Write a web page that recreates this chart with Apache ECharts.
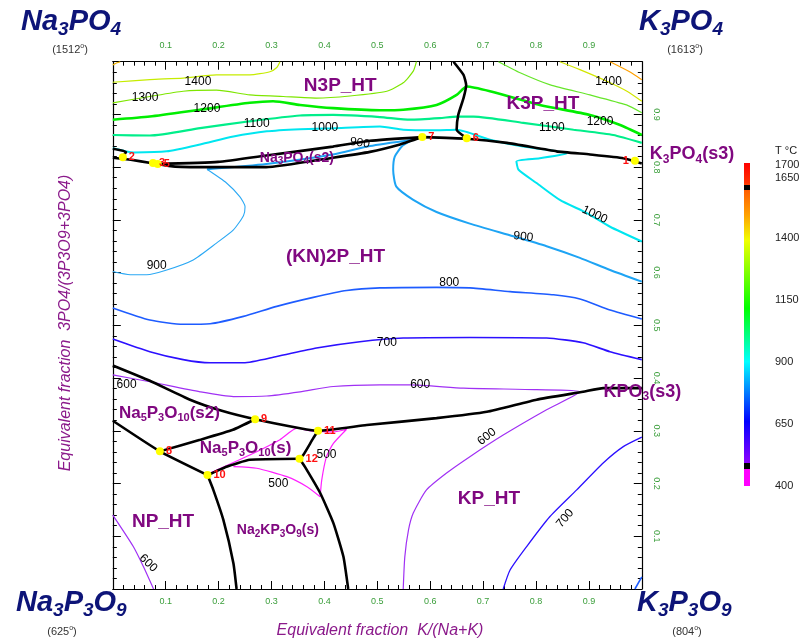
<!DOCTYPE html>
<html>
<head>
<meta charset="utf-8">
<script src="https://cdn.jsdelivr.net/npm/echarts@6/dist/echarts.min.js"></script>
<style>
html,body{margin:0;padding:0;background:#fff}
#chart{width:809px;height:643px}
</style>
</head>
<body>
<div id="chart"></div>
<script>
// ---- Phase boundaries (x = K/(Na+K), y = PO4/(P3O9+PO4)) ----
const bndEdgeNotch = [[0,0.835],[0.025,0.829],[0.019,0.819]];
const bndLensLower = [[0,0.818],[0.034,0.814],[0.072,0.808],[0.118,0.801],[0.199,0.800],[0.290,0.800],[0.416,0.818],[0.486,0.829],[0.543,0.843],[0.585,0.857]];
const bndLensUpper = [[0.080,0.806],[0.199,0.810],[0.290,0.822],[0.416,0.839],[0.486,0.850],[0.585,0.857]];
const bndK3PO4 = [[0.585,0.857],[0.669,0.854],[0.745,0.846],[0.839,0.830],[0.902,0.824],[0.965,0.817],[1.0,0.807]];
const bndN3PK3P = [[0.644,1.0],[0.663,0.975],[0.668,0.956],[0.663,0.931],[0.653,0.899],[0.650,0.871],[0.669,0.855]];
const bndKPO3 = [[0,0.424],[0.070,0.395],[0.146,0.359],[0.206,0.338],[0.269,0.322],[0.354,0.305],[0.389,0.300],[0.480,0.311],[0.612,0.324],[0.707,0.336],[0.801,0.359],[0.889,0.374],[0.927,0.381],[1.0,0.381]];
const bndNP = [[0,0.319],[0.089,0.261],[0.179,0.216]];
const bnd8to9 = [[0.089,0.261],[0.165,0.283],[0.227,0.302],[0.269,0.322]];
const bnd11to12 = [[0.388,0.300],[0.379,0.286],[0.360,0.254],[0.353,0.247]];
const bnd12to10 = [[0.353,0.247],[0.259,0.245],[0.215,0.232],[0.179,0.216]];
const bnd10down = [[0.179,0.216],[0.190,0.188],[0.209,0.131],[0.228,0.049],[0.234,0]];
const bnd12down = [[0.353,0.247],[0.363,0.232],[0.392,0.182],[0.417,0.125],[0.436,0.061],[0.445,0]];

// ---- Liquidus isotherms ----
const iso1500L = [[0,0.994],[0.008,0.998],[0.014,1.0]];
const iso1500R = [[0.940,1.0],[0.977,0.981],[1.0,0.966]];
const iso1400L = [[0,0.961],[0.070,0.966],[0.133,0.969],[0.196,0.975],[0.259,0.975],[0.297,0.981],[0.310,0.989],[0.316,1.0]];
const iso1400R = [[0.845,1.0],[0.883,0.985],[0.934,0.963],[0.972,0.944],[1.0,0.925]];
const iso1300L = [[0,0.922],[0.070,0.934],[0.133,0.944],[0.196,0.946],[0.259,0.937],[0.322,0.934],[0.385,0.931],[0.448,0.935],[0.518,0.944],[0.549,0.960],[0.568,0.982],[0.574,1.0]];
const iso1300R = [[0.729,1.0],[0.770,0.979],[0.827,0.956],[0.902,0.937],[0.971,0.918],[1.0,0.903]];
const iso1200 = [[0,0.890],[0.070,0.896],[0.165,0.909],[0.259,0.922],[0.303,0.925],[0.354,0.918],[0.417,0.912],[0.505,0.908],[0.549,0.909],[0.612,0.918],[0.650,0.937],[0.669,0.953],[0.713,0.944],[0.807,0.918],[0.902,0.899],[0.959,0.880],[1.0,0.861]];
const iso1100 = [[0,0.861],[0.070,0.860],[0.165,0.874],[0.259,0.887],[0.354,0.898],[0.417,0.899],[0.505,0.895],[0.562,0.890],[0.618,0.893],[0.650,0.896],[0.682,0.896],[0.776,0.884],[0.871,0.871],[0.946,0.861],[1.0,0.846]];
const iso1000 = [[0,0.836],[0.040,0.828],[0.102,0.830],[0.165,0.843],[0.228,0.858],[0.291,0.868],[0.354,0.872],[0.417,0.874],[0.505,0.877],[0.549,0.871],[0.612,0.870],[0.650,0.871],[0.713,0.852],[0.776,0.839],[0.858,0.826],[0.807,0.817],[0.763,0.811],[0.767,0.795],[0.801,0.770],[0.845,0.738],[0.896,0.713],[0.940,0.687],[1.0,0.659]];
const iso900L = [[0,0.602],[0.033,0.596],[0.064,0.596],[0.102,0.605],[0.152,0.624],[0.196,0.656],[0.228,0.681],[0.247,0.708],[0.250,0.725],[0.240,0.744],[0.215,0.770],[0.178,0.796]];
const iso900R = [[0.178,0.796],[0.290,0.806],[0.416,0.824],[0.486,0.840],[0.567,0.852],[0.548,0.841],[0.533,0.820],[0.530,0.795],[0.536,0.763],[0.568,0.738],[0.612,0.715],[0.675,0.693],[0.757,0.669],[0.820,0.650],[0.883,0.628],[0.940,0.605],[1.0,0.583]];
const iso800 = [[0,0.533],[0.070,0.510],[0.133,0.502],[0.184,0.503],[0.247,0.517],[0.310,0.536],[0.379,0.553],[0.442,0.566],[0.505,0.571],[0.612,0.572],[0.675,0.571],[0.751,0.564],[0.833,0.558],[0.883,0.550],[0.940,0.529],[1.0,0.512]];
const iso800Corner = [[0.987,0],[1.0,0.023]];
const iso700 = [[0,0.474],[0.070,0.450],[0.133,0.435],[0.184,0.429],[0.247,0.429],[0.310,0.441],[0.385,0.457],[0.467,0.469],[0.549,0.476],[0.675,0.477],[0.820,0.476],[0.889,0.467],[0.940,0.450],[1.0,0.435]];
const iso700KP = [[0.738,0],[0.751,0.036],[0.782,0.080],[0.826,0.137],[0.877,0.188],[0.927,0.239],[0.965,0.270],[1.0,0.288]];
const iso600 = [[0,0.406],[0.070,0.393],[0.165,0.374],[0.228,0.365],[0.291,0.366],[0.354,0.374],[0.417,0.384],[0.505,0.387],[0.562,0.387],[0.663,0.381],[0.801,0.378],[0.883,0.374],[0.820,0.340],[0.738,0.292],[0.675,0.251],[0.631,0.220],[0.593,0.188],[0.568,0.144],[0.559,0.112],[0.552,0.061],[0.549,0]];
const iso600NP = [[0,0.140],[0.039,0.080],[0.058,0.042],[0.077,0]];
const iso500A = [[0.184,0.220],[0.259,0.254],[0.316,0.283],[0.348,0.305],[0.373,0.300],[0.417,0.298],[0.442,0.303],[0.417,0.276],[0.404,0.251],[0.395,0.207],[0.392,0.175]];
const iso500B = [[0.228,0.232],[0.272,0.229],[0.329,0.213],[0.367,0.194],[0.392,0.175]];

// ---- Isotherm labels: x, y, text, angle ----
const isoLabelX = [0.161,0.061,0.178,0.272,0.401,0.467,0.937,0.921,0.830,0.911,0.776,0.083,0.636,0.518,0.026,0.581,0.707,0.855,0.404,0.313,0.067];
const isoLabelY = [0.962,0.931,0.910,0.882,0.874,0.846,0.962,0.887,0.874,0.710,0.668,0.613,0.580,0.467,0.388,0.387,0.289,0.134,0.254,0.199,0.049];
const isoLabelText = ['1400','1300','1200','1100','1000','900','1400','1200','1100','1000','900','900','800','700','600','600','600','700','500','500','600'];
const isoLabelAngle = [0,0,0,0,0,-8,0,0,0,-25,-6,0,0,0,0,0,38,50,0,0,-45];

// ---- Invariant points ----
const invNames = ['1','2','3','5','6','7','8','9','10','11','12'];
const invX = [0.987,0.019,0.076,0.085,0.669,0.585,0.089,0.269,0.179,0.388,0.353];
const invY = [0.812,0.819,0.808,0.806,0.855,0.857,0.261,0.322,0.216,0.300,0.247];

// ---- Phase field names (underscore + digits = subscript) ----
const fieldNames = ['N3P_HT','K3P_HT','Na_3PO_4(s2)','K_3PO_4(s3)','(KN)2P_HT','KPO_3(s3)','Na_5P_3O_10(s2)','Na_5P_3O_10(s)','NP_HT','Na_2KP_3O_9(s)','KP_HT'];
const fieldX = [0.430,0.813,0.348,1.095,0.421,1.001,0.107,0.251,0.095,0.312,0.711];
const fieldY = [0.954,0.920,0.818,0.824,0.630,0.374,0.334,0.267,0.128,0.112,0.172];

// ---- Colour scale ticks (°C) ----
const scaleTicks = [1700,1650,1400,1150,900,650,400];

// ---------------------------------------------------------------
const PURPLE = '#800880';
const NAVY = '#0d1478';
const GREEN = '#3a9e3a';
const FONT = 'Arial, Liberation Sans, sans-serif';
const noBorder = {textBorderWidth:0, textBorderColor:'transparent', textShadowBlur:0, textShadowColor:'transparent', opacity:1};
const fieldFont = {
  'N3P_HT':[19,13],'K3P_HT':[19,13],'(KN)2P_HT':[19,13],'NP_HT':[19,13],'KP_HT':[19,13],
  'Na_3PO_4(s2)':[14,10],'Na_2KP_3O_9(s)':[14,10],
  'K_3PO_4(s3)':[18,12],'KPO_3(s3)':[18,12],
  'Na_5P_3O_10(s2)':[17,11],'Na_5P_3O_10(s)':[17,11]
};
function richOf(str){ return '{m|' + str.replace(/_(\d+)/g, '}{s|$1}{m|') + '}'; }

const lineStyles = [
  [iso1500L,'#f2b400',1.2],[iso1500R,'#ffa000',1.2],
  [iso1400L,'#c6ec00',1.2],[iso1400R,'#d2e600',1.2],
  [iso1300L,'#7ee600',1.2],[iso1300R,'#66e62a',1.2],
  [iso1200,'#00ee00',2.6],[iso1100,'#00ee8a',2.2],
  [iso1000,'#00e6f0',2],[iso900L,'#2aa8f4',1.1],[iso900R,'#1ea4f4',2],
  [iso800,'#1e5cff',1.6],[iso800Corner,'#1e5cff',1.6],
  [iso700,'#2c10ff',1.6],[iso700KP,'#2c10ff',1.3],
  [iso600,'#a030f4',1.2],[iso600NP,'#a030f4',1.2],
  [iso500A,'#ff20ff',1.2],[iso500B,'#ff20ff',1.2]
];
const boundaries = [bndEdgeNotch,bndLensLower,bndLensUpper,bndK3PO4,bndN3PK3P,bndKPO3,bndNP,bnd8to9,bnd11to12,bnd12to10,bnd10down,bnd12down];

const series = [];
lineStyles.forEach(([d,c,w]) => series.push({
  type:'line', data:d, showSymbol:false, smooth:0.2, z:2, silent:true,
  lineStyle:{color:c, width:w}
}));
boundaries.forEach(d => series.push({
  type:'line', data:d, showSymbol:false, smooth:0.15, z:3, silent:true,
  lineStyle:{color:'#000', width:2.6}
}));
series.push({
  type:'scatter', z:5, clip:false, silent:true, symbolSize:0, itemStyle:{color:'#000', opacity:1},
  data: isoLabelText.map((t,i)=>({value:[isoLabelX[i],isoLabelY[i]], name:t, label:{rotate:isoLabelAngle[i]}})),
  label:Object.assign({show:true, position:'inside', formatter:p=>p.name, color:'#000', fontSize:12, fontFamily:FONT}, noBorder)
});
series.push({
  type:'scatter', z:6, clip:false, silent:true, symbolSize:8,
  itemStyle:{color:'#ffff00', opacity:1},
  data: invNames.map((t,i)=>({value:[invX[i],invY[i]], name:t, label:{position: t==='1' ? 'left' : 'right'}})),
  label:Object.assign({show:true, formatter:p=>p.name, color:'#ff1010', fontSize:11, fontWeight:'bold', distance:2, fontFamily:FONT}, noBorder)
});
series.push({
  type:'scatter', z:7, clip:false, silent:true, symbolSize:0, itemStyle:{color:PURPLE, opacity:1},
  data: fieldNames.map((t,i)=>{
    const [F,f] = fieldFont[t];
    return {value:[fieldX[i],fieldY[i]], name:t, label:{
      rich:{
        m:Object.assign({fontSize:F, fontWeight:'bold', color:PURPLE, lineHeight:F+4, fontFamily:FONT}, noBorder),
        s:Object.assign({fontSize:f, fontWeight:'bold', color:PURPLE, lineHeight:f, verticalAlign:'bottom', fontFamily:FONT}, noBorder)
      }}};
  }),
  label:Object.assign({show:true, position:'inside', color:PURPLE, formatter:p=>richOf(p.name)}, noBorder)
});

const axisCommon = {
  type:'value', min:0, max:1, interval:0.1,
  axisLine:{show:true, onZero:false, lineStyle:{color:'#000', width:1.2}},
  axisTick:{show:true, inside:true, length:8, lineStyle:{color:'#000'}},
  minorTick:{show:true, splitNumber:5, length:4, lineStyle:{color:'#000'}},
  splitLine:{show:false}, minorSplitLine:{show:false}
};
const tickLabel = {color:GREEN, fontSize:9, showMinLabel:false, showMaxLabel:false,
  fontFamily:FONT, formatter:v=>v.toFixed(1)};

const corner = (txt, x, y) => ({
  type:'text', x, y, style:{
    text: richOf(txt), align:'left', verticalAlign:'middle',
    rich:{
      m:{fontSize:29, fontWeight:'bold', fontStyle:'italic', fill:NAVY, lineHeight:34, fontFamily:FONT},
      s:{fontSize:19, fontWeight:'bold', fontStyle:'italic', fill:NAVY, lineHeight:19, verticalAlign:'bottom', fontFamily:FONT}
    }}
});
const meltT = (txt, x, y) => ({
  type:'text', x, y, style:{
    text:'{m|(' + txt + '}{o|o}{m|)}', align:'center', verticalAlign:'middle',
    rich:{
      m:{fontSize:11, fill:'#333', lineHeight:14, fontFamily:FONT},
      o:{fontSize:7, fill:'#333', lineHeight:14, verticalAlign:'top', fontFamily:FONT}
    }}
});

// colour scale bar
const barTop = 163, barH = 323, barX = 744, barW = 6;
const tYpos = t => barTop + (1700 - t) / 1300 * barH;
const graphics = [
  corner('Na_3PO_4', 21, 22), corner('K_3PO_4', 639, 22),
  corner('Na_3P_3O_9', 16, 603), corner('K_3P_3O_9', 637, 603),
  meltT('1512', 70, 50), meltT('1613', 685, 50), meltT('625', 62, 632), meltT('804', 687, 632),
  {type:'text', x:380, y:631, style:{text:'Equivalent fraction  K/(Na+K)', align:'center', verticalAlign:'middle',
    fill:'#8b1a8b', font:'italic 16px ' + FONT}},
  {type:'text', x:66, y:323, rotation:Math.PI/2, style:{text:'Equivalent fraction  3PO4/(3P3O9+3PO4)', align:'center', verticalAlign:'middle',
    fill:'#8b1a8b', font:'italic 16px ' + FONT}},
  {type:'rect', shape:{x:barX, y:barTop, width:barW, height:barH}, style:{
    fill:new echarts.graphic.LinearGradient(0,0,0,1,[
      {offset:0, color:'#ff0000'},{offset:0.06, color:'#ff3000'},{offset:0.08, color:'#ff5a00'},
      {offset:0.16, color:'#ffa000'},{offset:0.24, color:'#f0ff00'},{offset:0.45, color:'#00ff00'},
      {offset:0.615, color:'#00ffff'},{offset:0.80, color:'#0000ff'},{offset:0.93, color:'#9000ff'},
      {offset:0.935, color:'#ff00ff'},{offset:1, color:'#ff00ff'}])}},
  {type:'rect', shape:{x:barX, y:185, width:barW, height:5}, style:{fill:'#000'}},
  {type:'rect', shape:{x:barX, y:463, width:barW, height:6}, style:{fill:'#000'}},
  {type:'text', x:775, y:151, style:{text:'T °C', align:'left', verticalAlign:'middle', fill:'#222', font:'11px ' + FONT}}
];
scaleTicks.forEach(t => graphics.push({type:'text', x:775, y: t===1650 ? 178 : tYpos(t) + (t===1700 ? 2 : 0),
  style:{text:String(t), align:'left', verticalAlign:'middle', fill:'#222', font:'11px ' + FONT}}));

const chart = echarts.init(document.getElementById('chart'), null, {renderer:'canvas'});
chart.setOption({
  animation:false,
  backgroundColor:'#fff',
  grid:{left:112.8, top:61.7, width:529, height:527.3},
  xAxis:[
    Object.assign({}, axisCommon, {position:'bottom', axisLabel:Object.assign({}, tickLabel, {margin:8})}),
    Object.assign({}, axisCommon, {position:'top', axisLabel:Object.assign({}, tickLabel, {margin:12})})
  ],
  yAxis:[
    Object.assign({}, axisCommon, {position:'left', axisLabel:{show:false}}),
    Object.assign({}, axisCommon, {position:'right', axisLabel:Object.assign({}, tickLabel, {margin:10, rotate:-90})})
  ],
  series,
  graphic:graphics
});
</script>
</body>
</html>
